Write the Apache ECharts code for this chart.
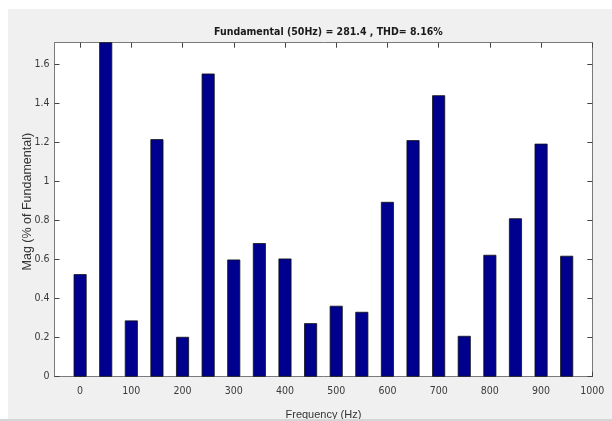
<!DOCTYPE html>
<html>
<head>
<meta charset="utf-8">
<script src="https://cdn.jsdelivr.net/npm/echarts@6/dist/echarts.min.js"></script>
<style>
  html, body { margin: 0; padding: 0; background: #ffffff; }
  #chart { width: 612px; height: 421px; }
</style>
</head>
<body>
<div id="chart"></div>
<script>
// Harmonic spectrum: frequency bins (Hz) and magnitude in % of the fundamental
const frequencies = [0, 50, 100, 150, 200, 250, 300, 350, 400, 450,
                     500, 550, 600, 650, 700, 750, 800, 850, 900, 950];
const magnitudes  = [0.525, 100, 0.288, 1.216, 0.204, 1.552, 0.600, 0.684, 0.605, 0.274,
                     0.363, 0.332, 0.895, 1.211, 1.441, 0.209, 0.624, 0.811, 1.193, 0.619];
const xTicks = [0, 100, 200, 300, 400, 500, 600, 700, 800, 900, 1000];
const yTicks = [0, 0.2, 0.4, 0.6, 0.8, 1, 1.2, 1.4, 1.6];
const titleText = 'Fundamental (50Hz) = 281.4 , THD= 8.16%';

const narrow = '"Liberation Sans Narrow", "DejaVu Sans Condensed", "Liberation Sans", Arial, sans-serif';
const plain = 'Arial, "Liberation Sans", sans-serif';
const axisGrey = '#7a7a7a';
const labelGrey = '#3a3a3a';

const chart = echarts.init(document.getElementById('chart'), null, { renderer: 'canvas' });

const baseX = {
  type: 'value', min: -50, max: 1000,
  axisLine: { show: true, onZero: false, lineStyle: { color: axisGrey, width: 1 } },
  axisTick: { show: true, inside: true, length: 5, customValues: xTicks,
              lineStyle: { color: '#444', width: 1 } },
  splitLine: { show: false }
};
const baseY = {
  type: 'value', min: 0, max: 1.71,
  axisLine: { show: true, onZero: false, lineStyle: { color: axisGrey, width: 1 } },
  axisTick: { show: true, inside: true, length: 5, customValues: yTicks,
              lineStyle: { color: '#444', width: 1 } },
  splitLine: { show: false }
};

chart.setOption({
  backgroundColor: '#ffffff',
  animation: false,
  graphic: [
    { type: 'rect', z: -10, shape: { x: 8, y: 9, width: 604, height: 410 },
      style: { fill: '#f0f0f0' } },
    { type: 'rect', z: 100, shape: { x: 0, y: 419, width: 612, height: 2 },
      style: { fill: '#d6d6d6' } }
  ],
  title: {
    text: titleText,
    left: 323.4, top: 22, textAlign: 'center',
    textStyle: { fontFamily: narrow, fontSize: 10.5, fontWeight: 'bold', color: '#1a1a1a' }
  },
  grid: {
    left: 54.5, top: 42.7, right: 19.7, bottom: 44.3,
    outerBoundsMode: 'none', containLabel: false,
    show: true, backgroundColor: '#ffffff', borderWidth: 0
  },
  xAxis: [
    Object.assign({}, baseX, {
      position: 'bottom',
      name: 'Frequency (Hz)', nameLocation: 'middle', nameGap: 33, nameMoveOverlap: false,
      nameTextStyle: { fontFamily: plain, fontSize: 11, color: '#333' },
      axisLabel: { show: true, customValues: xTicks, margin: 9,
                   fontFamily: narrow, fontSize: 10.5, color: labelGrey,
                   formatter: v => String(v) }
    }),
    Object.assign({}, baseX, {
      position: 'top',
      axisLabel: { show: false }
    })
  ],
  yAxis: [
    Object.assign({}, baseY, {
      position: 'left',
      name: 'Mag (% of Fundamental)', nameLocation: 'middle', nameGap: 20, nameRotate: 90,
      nameMoveOverlap: false,
      nameTextStyle: { fontFamily: plain, fontSize: 12.5, color: '#333',
                       padding: [0, 0, 0, 16] },
      axisLabel: { show: true, customValues: yTicks, margin: 5,
                   fontFamily: narrow, fontSize: 10.5, color: labelGrey,
                   formatter: v => String(Math.round(v * 10) / 10) }
    }),
    Object.assign({}, baseY, {
      position: 'right',
      axisLabel: { show: false }
    })
  ],
  series: [{
    type: 'bar',
    xAxisIndex: 0, yAxisIndex: 0,
    data: frequencies.map((f, i) => [f, magnitudes[i]]),
    barWidth: 13,
    clip: true,
    itemStyle: { color: '#00008f', borderColor: '#111111', borderWidth: 0.8 }
  }]
});
</script>
</body>
</html>
